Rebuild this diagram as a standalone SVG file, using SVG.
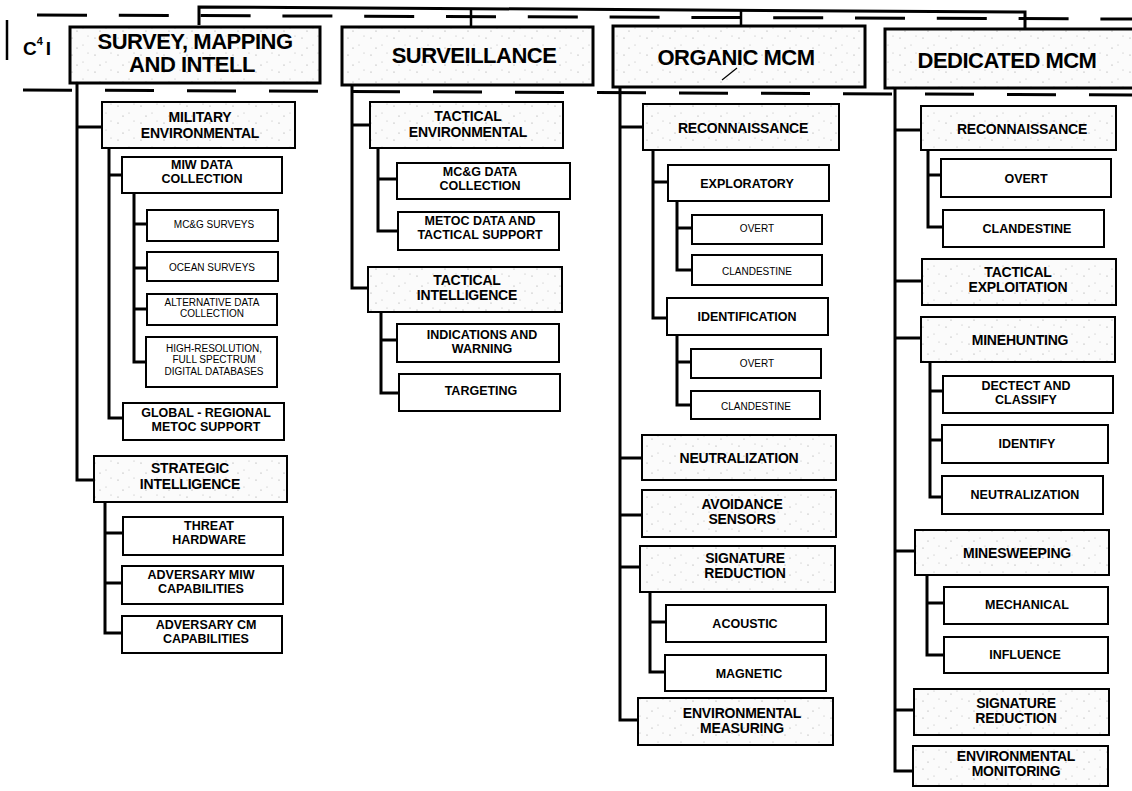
<svg xmlns="http://www.w3.org/2000/svg" width="1132" height="791" viewBox="0 0 1132 791">
<style>
text{font-family:"Liberation Sans",Arial,Helvetica,sans-serif;fill:#000;text-anchor:middle}
.ht{font-size:22px;font-weight:bold;letter-spacing:-0.5px}
.t2{font-size:14px;font-weight:bold;letter-spacing:-0.2px}
.t3{font-size:12.5px;font-weight:bold}
.t4{font-size:10px;font-weight:normal}
.hdr{fill:url(#stip);stroke:#000;stroke-width:3}
.g2{fill:url(#stip);stroke:#000;stroke-width:2}
.w{fill:#fff;stroke:#000;stroke-width:2}
.c{fill:none;stroke:#000;stroke-width:3;stroke-linejoin:miter}
.dash{fill:none;stroke:#000;stroke-width:3}
</style>
<defs>
<pattern id="stip" width="23" height="17" patternUnits="userSpaceOnUse">
<rect width="23" height="17" fill="#fbfbfb"/>
<circle cx="3" cy="4" r="0.6" fill="#999"/>
<circle cx="14" cy="11" r="0.5" fill="#aaa"/>
<circle cx="19" cy="2" r="0.5" fill="#aaa"/>
<circle cx="8" cy="14" r="0.6" fill="#999"/>
</pattern>
</defs>
<rect width="1132" height="791" fill="#fff"/>

<g id="frame">
<line x1="37" y1="15" x2="1132" y2="19" class="dash" stroke-dasharray="50 31.8"/>
<line x1="23" y1="90" x2="1132" y2="95" class="dash" stroke-dasharray="49 33"/>
<path class="c" stroke-width="2.5" d="M199,25 V7 L1025,12 V29"/>
<line x1="471" y1="8" x2="471" y2="27" stroke="#000" stroke-width="2.5"/>
<line x1="741" y1="9.5" x2="741" y2="26" stroke="#000" stroke-width="2.5"/>
<line x1="7" y1="20" x2="7" y2="60" stroke="#000" stroke-width="2.5"/>
<text x="23" y="55" style="text-anchor:start;font-size:19px;font-weight:bold">C<tspan font-size="11" dy="-10">4</tspan><tspan dy="10" dx="3">I</tspan></text>
</g>

<g id="connectors">
<path class="c" d="M77,83 V480 H94 M77,127 H102"/>
<path class="c" d="M109,148 V418 H123 M109,175 H122"/>
<path class="c" d="M134,193 V362 H146 M134,224 H147 M134,268 H147 M134,309 H147"/>
<path class="c" d="M105,502 V633 H122 M105,533 H123 M105,583 H122"/>
<path class="c" d="M352,85 V288 H368 M352,125 H370"/>
<path class="c" d="M378,148 V231 H398 M378,179 H397"/>
<path class="c" d="M381,312 V393 H399 M381,340 H397"/>
<path class="c" d="M620,87 V720 H638 M620,127 H643 M620,458 H642 M620,515 H642 M620,567 H640"/>
<path class="c" d="M653,150 V318 H667 M653,182 H668"/>
<path class="c" d="M677,201 V270 H692 M677,228 H692"/>
<path class="c" d="M677,335 V405 H691 M677,362 H691"/>
<path class="c" d="M650,592 V672 H665 M650,622 H666"/>
<path class="c" d="M895,88 V771 H913 M895,130 H921 M895,281 H922 M895,338 H921 M895,551 H915 M895,710 H914"/>
<path class="c" d="M928,150 V227 H943 M928,175 H941"/>
<path class="c" d="M930,362 V497 H942 M930,391 H943 M930,440 H942"/>
<path class="c" d="M927,575 V655 H944 M927,603 H944"/>
</g>

<g id="n-survey"><rect class="hdr" x="70" y="27" width="250" height="56"/><text class="ht" x="195" y="49">SURVEY, MAPPING</text><text class="ht" x="192" y="72">AND INTELL</text></g>
<g id="n-milenv"><rect class="g2" x="102" y="102" width="193" height="46"/><text class="t2" x="200" y="121.5">MILITARY</text><text class="t2" x="200" y="137.5">ENVIRONMENTAL</text></g>
<g id="n-miwdata"><rect class="w" x="122" y="157" width="160" height="36"/><text class="t3" x="202" y="169">MIW DATA</text><text class="t3" x="202" y="183">COLLECTION</text></g>
<g id="n-mcg-surveys"><rect class="w" x="147" y="210" width="131" height="31"/><text class="t4" x="214" y="228">MC&amp;G SURVEYS</text></g>
<g id="n-ocean"><rect class="w" x="147" y="252" width="131" height="29"/><text class="t4" x="212" y="271">OCEAN SURVEYS</text></g>
<g id="n-altdata"><rect class="w" x="147" y="294" width="130" height="31"/><text class="t4" x="212" y="305.5">ALTERNATIVE DATA</text><text class="t4" x="212" y="317">COLLECTION</text></g>
<g id="n-highres"><rect class="w" x="146" y="337" width="131" height="50"/><text class="t4" x="214" y="351.5">HIGH-RESOLUTION,</text><text class="t4" x="214" y="363">FULL SPECTRUM</text><text class="t4" x="214" y="374.5">DIGITAL DATABASES</text></g>
<g id="n-global"><rect class="w" x="123" y="403" width="161" height="37"/><text class="t3" x="206" y="417">GLOBAL - REGIONAL</text><text class="t3" x="206" y="431">METOC SUPPORT</text></g>
<g id="n-strategic"><rect class="g2" x="94" y="456" width="193" height="46"/><text class="t2" x="190" y="473">STRATEGIC</text><text class="t2" x="190" y="489">INTELLIGENCE</text></g>
<g id="n-threat"><rect class="w" x="123" y="517" width="160" height="38"/><text class="t3" x="209" y="529.5">THREAT</text><text class="t3" x="209" y="543.5">HARDWARE</text></g>
<g id="n-advmiw"><rect class="w" x="122" y="566" width="161" height="38"/><text class="t3" x="201" y="579">ADVERSARY MIW</text><text class="t3" x="201" y="593">CAPABILITIES</text></g>
<g id="n-advcm"><rect class="w" x="122" y="616" width="160" height="37"/><text class="t3" x="206" y="629">ADVERSARY CM</text><text class="t3" x="206" y="643">CAPABILITIES</text></g>

<g id="n-surveillance"><rect class="hdr" x="342" y="27" width="251" height="58"/><text class="ht" x="474" y="63">SURVEILLANCE</text></g>
<g id="n-tactenv"><rect class="g2" x="370" y="102" width="193" height="46"/><text class="t2" x="468" y="121">TACTICAL</text><text class="t2" x="468" y="137">ENVIRONMENTAL</text></g>
<g id="n-mcg-data"><rect class="w" x="397" y="163" width="173" height="36"/><text class="t3" x="480" y="176">MC&amp;G DATA</text><text class="t3" x="480" y="190">COLLECTION</text></g>
<g id="n-metoc"><rect class="w" x="398" y="212" width="161" height="38"/><text class="t3" x="480" y="225">METOC DATA AND</text><text class="t3" x="480" y="239">TACTICAL SUPPORT</text></g>
<g id="n-tactintel"><rect class="g2" x="368" y="267" width="194" height="45"/><text class="t2" x="467" y="284.5">TACTICAL</text><text class="t2" x="467" y="300">INTELLIGENCE</text></g>
<g id="n-indications"><rect class="w" x="397" y="324" width="162" height="38"/><text class="t3" x="482" y="339">INDICATIONS AND</text><text class="t3" x="482" y="353">WARNING</text></g>
<g id="n-targeting"><rect class="w" x="399" y="374" width="161" height="37"/><text class="t3" x="481" y="395">TARGETING</text></g>

<g id="n-organic"><rect class="hdr" x="613" y="26" width="252" height="61"/><text class="ht" x="736" y="65">ORGANIC MCM</text><line x1="722" y1="80" x2="737" y2="68" stroke="#000" stroke-width="1.2"/></g>
<g id="n-o-recon"><rect class="g2" x="643" y="104" width="196" height="46"/><text class="t2" x="743" y="133">RECONNAISSANCE</text></g>
<g id="n-o-explor"><rect class="w" x="668" y="165" width="161" height="36"/><text class="t3" x="747" y="188">EXPLORATORY</text></g>
<g id="n-o-overt1"><rect class="w" x="692" y="215" width="130" height="29"/><text class="t4" x="757" y="232">OVERT</text></g>
<g id="n-o-cland1"><rect class="w" x="692" y="255" width="130" height="30"/><text class="t4" x="757" y="275">CLANDESTINE</text></g>
<g id="n-o-ident"><rect class="w" x="667" y="298" width="161" height="37"/><text class="t3" x="747" y="321">IDENTIFICATION</text></g>
<g id="n-o-overt2"><rect class="w" x="691" y="349" width="130" height="29"/><text class="t4" x="757" y="367">OVERT</text></g>
<g id="n-o-cland2"><rect class="w" x="691" y="391" width="129" height="28"/><text class="t4" x="756" y="410">CLANDESTINE</text></g>
<g id="n-o-neutral"><rect class="g2" x="642" y="435" width="194" height="45"/><text class="t2" x="739" y="463">NEUTRALIZATION</text></g>
<g id="n-o-avoid"><rect class="g2" x="642" y="490" width="194" height="47"/><text class="t2" x="742" y="508.5">AVOIDANCE</text><text class="t2" x="742" y="524">SENSORS</text></g>
<g id="n-o-sigred"><rect class="g2" x="640" y="546" width="195" height="46"/><text class="t2" x="745" y="562.5">SIGNATURE</text><text class="t2" x="745" y="578">REDUCTION</text></g>
<g id="n-o-acoustic"><rect class="w" x="666" y="605" width="160" height="37"/><text class="t3" x="745" y="628">ACOUSTIC</text></g>
<g id="n-o-magnetic"><rect class="w" x="665" y="655" width="161" height="36"/><text class="t3" x="749" y="678">MAGNETIC</text></g>
<g id="n-o-envmeas"><rect class="g2" x="638" y="698" width="195" height="47"/><text class="t2" x="742" y="717.5">ENVIRONMENTAL</text><text class="t2" x="742" y="733">MEASURING</text></g>

<g id="n-dedicated"><rect class="hdr" x="885" y="29" width="260" height="59"/><text class="ht" x="1007" y="68">DEDICATED MCM</text></g>
<g id="n-d-recon"><rect class="g2" x="921" y="106" width="195" height="44"/><text class="t2" x="1022" y="134">RECONNAISSANCE</text></g>
<g id="n-d-overt"><rect class="w" x="941" y="159" width="170" height="38"/><text class="t3" x="1026" y="183">OVERT</text></g>
<g id="n-d-cland"><rect class="w" x="943" y="210" width="161" height="37"/><text class="t3" x="1027" y="233">CLANDESTINE</text></g>
<g id="n-d-tactexp"><rect class="g2" x="922" y="259" width="194" height="46"/><text class="t2" x="1018" y="276.5">TACTICAL</text><text class="t2" x="1018" y="292">EXPLOITATION</text></g>
<g id="n-d-minehunt"><rect class="g2" x="921" y="317" width="194" height="45"/><text class="t2" x="1020" y="345">MINEHUNTING</text></g>
<g id="n-d-detect"><rect class="w" x="943" y="376" width="170" height="37"/><text class="t3" x="1026" y="390">DECTECT AND</text><text class="t3" x="1026" y="404">CLASSIFY</text></g>
<g id="n-d-identify"><rect class="w" x="942" y="425" width="166" height="38"/><text class="t3" x="1027" y="448">IDENTIFY</text></g>
<g id="n-d-neutral"><rect class="w" x="942" y="476" width="161" height="38"/><text class="t3" x="1025" y="499">NEUTRALIZATION</text></g>
<g id="n-d-minesweep"><rect class="g2" x="915" y="530" width="194" height="45"/><text class="t2" x="1017" y="558">MINESWEEPING</text></g>
<g id="n-d-mech"><rect class="w" x="944" y="587" width="164" height="37"/><text class="t3" x="1027" y="609">MECHANICAL</text></g>
<g id="n-d-influence"><rect class="w" x="944" y="637" width="164" height="36"/><text class="t3" x="1025" y="659">INFLUENCE</text></g>
<g id="n-d-sigred"><rect class="g2" x="914" y="689" width="195" height="46"/><text class="t2" x="1016" y="707.5">SIGNATURE</text><text class="t2" x="1016" y="723">REDUCTION</text></g>
<g id="n-d-envmon"><rect class="g2" x="913" y="746" width="195" height="40"/><text class="t2" x="1016" y="761">ENVIRONMENTAL</text><text class="t2" x="1016" y="776">MONITORING</text></g>
</svg>
